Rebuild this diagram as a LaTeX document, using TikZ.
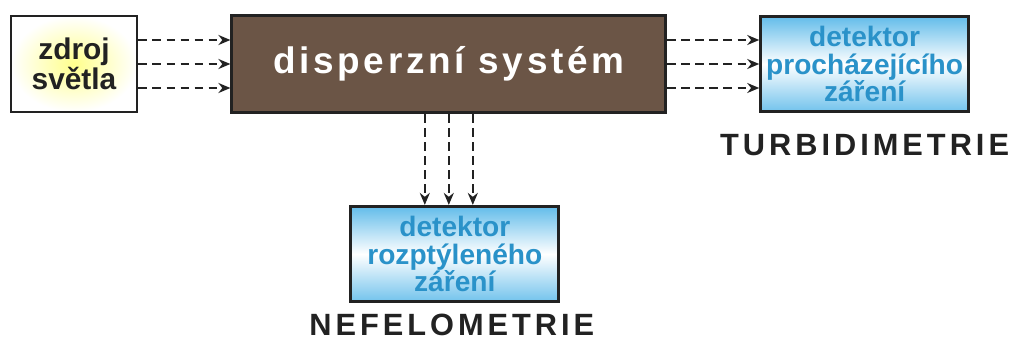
\documentclass[tikz,border=0pt]{standalone}
\usepackage{fontspec}
\setmainfont{Liberation Sans}
\usepackage{xcolor}
\usetikzlibrary{arrows.meta,positioning,calc}
\definecolor{hneda}{HTML}{6B5546}
\definecolor{modra}{HTML}{2A92C9}
\definecolor{svetlemodra}{HTML}{62BCEA}
\definecolor{tmava}{HTML}{222222}
\tikzset{
    zdrojbox/.style={rectangle, draw=tmava, line width=1.6pt, minimum width=2.52cm, minimum height=1.92cm, align=center, inner color=yellow!45, outer color=white, text=tmava, font=\fontsize{17}{15}\selectfont\bfseries},
    systembox/.style={rectangle, draw=tmava, line width=1.6pt, fill=hneda, minimum width=8.68cm, minimum height=1.94cm, text=white, font=\fontsize{21}{21}\selectfont\bfseries\addfontfeature{LetterSpace=10}},
    detbox/.style={rectangle, draw=tmava, line width=1.6pt, minimum width=4.16cm, minimum height=1.91cm, align=center, top color=svetlemodra, bottom color=svetlemodra!90, middle color=white, text=modra, font=\fontsize{16}{15.5}\selectfont\bfseries, inner sep=0pt},
    metoda/.style={font=\fontsize{17.5}{17.5}\selectfont\bfseries\addfontfeature{LetterSpace=13}, text=tmava, inner sep=0pt},
    paprsek/.style={-{Stealth[length=2.4mm,width=2mm]}, line width=1.4pt, draw=tmava, dash pattern=on 5pt off 3pt},
}
\begin{document}
\begin{tikzpicture}
    \useasboundingbox (0,0) rectangle (20.26,6.8);
    \node[zdrojbox] (zdroj) at (1.48,5.52) {zdroj\\světla};
    \node[systembox, right=1.84cm of zdroj] (disp) {disperzní systém};
    \node[detbox, right=1.84cm of disp] (detprosch) {detektor\\procházejícího\\záření};
    \node[detbox, below=1.82cm of disp, xshift=0.12cm] (detrozpt) {detektor\\rozptýleného\\záření};

    \node[metoda, below=0.42cm of detprosch] (turb) {TURBIDIMETRIE};
    \node[metoda, below=0.2cm of detrozpt, xshift=-0.06cm] (nefel) {NEFELOMETRIE};

    \foreach \d in {-0.48,0,0.48} {
        \draw[paprsek] ([yshift=\d cm]zdroj.east) -- ([yshift=\d cm]disp.west);
        \draw[paprsek] ([yshift=\d cm]disp.east) -- ([yshift=\d cm]detprosch.west);
        \draw[paprsek] ([xshift=\d cm]disp.south) -- ([xshift=\d cm]disp.south |- detrozpt.north);
    }
\end{tikzpicture}
\end{document}
